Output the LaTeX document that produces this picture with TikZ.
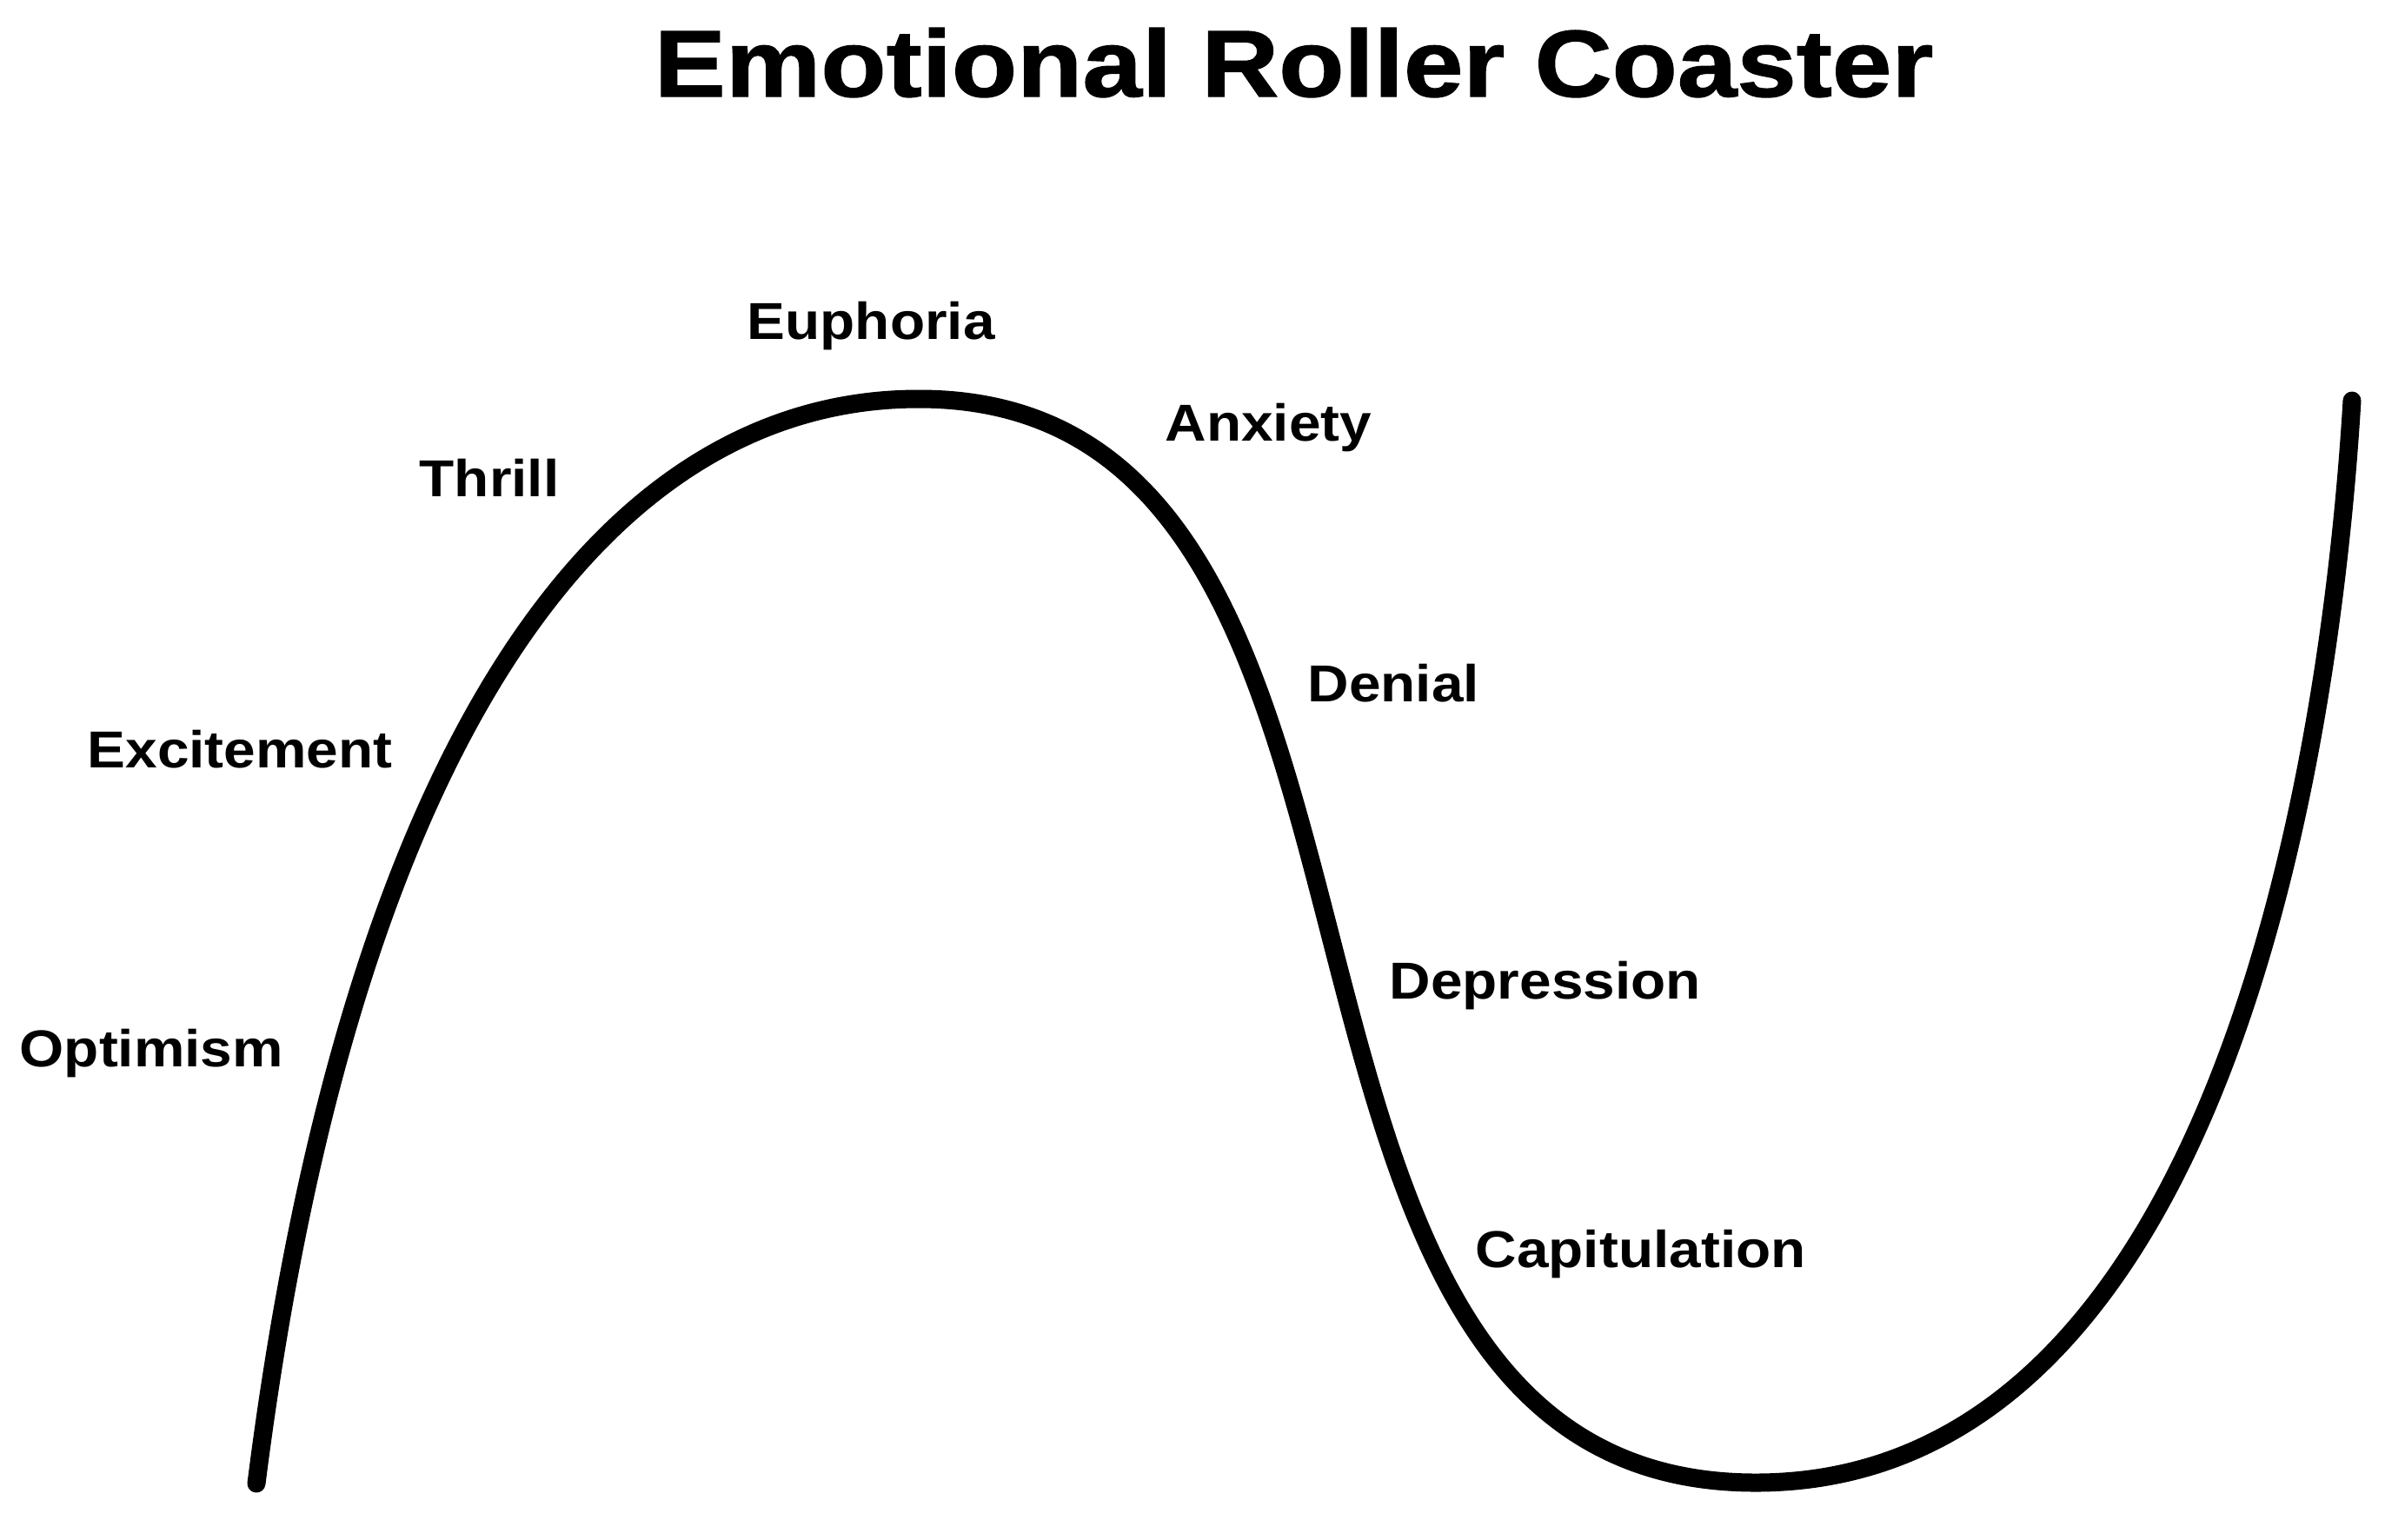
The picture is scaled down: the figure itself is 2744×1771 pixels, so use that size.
\documentclass[tikz,border=0pt]{standalone}
\usepackage{fontspec}
\setmainfont{Liberation Sans}[FakeStretch=1.1]
\newfontfamily\titlefont{Liberation Sans}[FakeStretch=1.13, FakeBold=1.2]

\begin{document}
\begin{tikzpicture}[x=0.01cm, y=-0.01cm,
	mood/.style={anchor=base west, inner sep=0pt, font=\fontsize{17}{20}\selectfont\bfseries},
	track/.style={line width=0.21cm, line cap=round, line join=round}]
			%%%%% START %%%%%
			
			\useasboundingbox (0, 0) rectangle (2744, 1771);
			
			\node[anchor=base west, inner sep=0pt, font=\titlefont\fontsize{31}{36}\selectfont\bfseries] (title) at (752, 111) {Emotional Roller Coaster};
			
			\coordinate (start) at (295, 1707);
			\coordinate (peak) at (1057, 459);
			\coordinate (bottom) at (2020, 1706);
			\coordinate (finish) at (2706, 461);
			
			\draw[track] (start) .. controls (400, 880) and (680, 459) .. (peak)
				.. controls (1690, 459) and (1370, 1706) .. (bottom)
				.. controls (2530, 1706) and (2677, 941) .. (finish);
			
			\node[mood] (optimism) at (22, 1227) {Optimism};
			\node[mood] (excitement) at (100, 883) {Excitement};
			\node[mood] (thrill) at (482, 571) {Thrill};
			\node[mood] (euphoria) at (859, 390) {Euphoria};
			\node[mood] (anxiety) at (1340, 507) {Anxiety};
			\node[mood] (denial) at (1504, 807) {Denial};
			\node[mood] (depression) at (1598, 1149) {Depression};
			\node[mood] (capitulation) at (1697, 1458) {Capitulation};
			
			%%%%% END %%%%%
\end{tikzpicture}
\end{document}
